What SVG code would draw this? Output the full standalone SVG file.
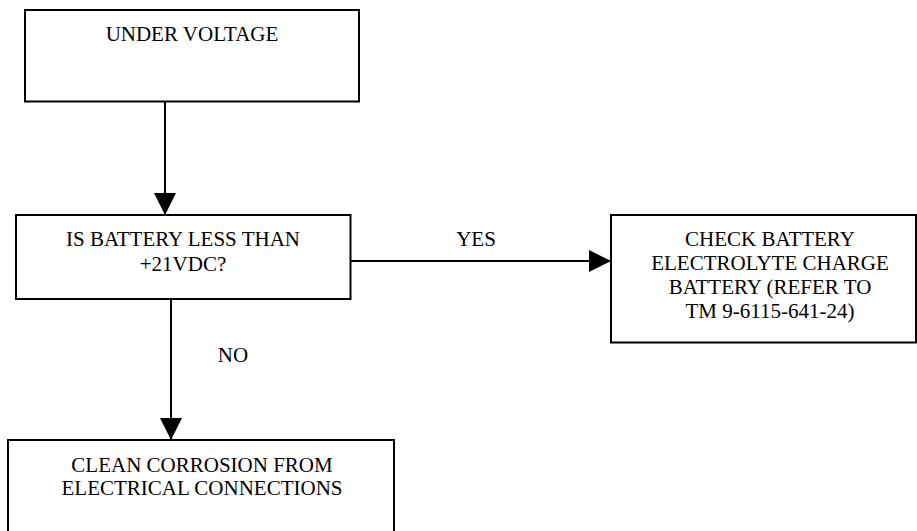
<svg xmlns="http://www.w3.org/2000/svg" width="917" height="531" viewBox="0 0 917 531">
<style>
.box{fill:#fff;stroke:#000;stroke-width:2}
.t{font-family:"Liberation Serif","Times New Roman",serif;font-size:21px;fill:#000;text-anchor:middle}
.c{stroke:#000;stroke-width:2;fill:none}
</style>
<defs>
<marker id="ah" markerUnits="userSpaceOnUse" markerWidth="22" markerHeight="22" refX="20" refY="10" orient="auto" viewBox="0 0 20 20">
<path d="M0,0 L20,10 L0,20 Z" fill="#000"/>
</marker>
</defs>
<rect width="917" height="531" fill="#fff"/>
<g id="n1">
<rect class="box" x="25" y="10" width="334" height="91.5"/>
<text class="t" x="192" y="41">UNDER VOLTAGE</text>
</g>
<g id="n2">
<rect class="box" x="16" y="215" width="334.5" height="84"/>
<text class="t" x="183" y="246">IS BATTERY LESS THAN</text>
<text class="t" x="183" y="271">+21VDC?</text>
</g>
<g id="n3">
<rect class="box" x="611" y="215" width="305" height="127.5"/>
<text class="t" x="770" y="246">CHECK BATTERY</text>
<text class="t" x="770" y="270">ELECTROLYTE CHARGE</text>
<text class="t" x="770" y="294">BATTERY (REFER TO</text>
<text class="t" x="770" y="318">TM 9-6115-641-24)</text>
</g>
<g id="n4">
<rect class="box" x="8" y="440" width="386" height="110"/>
<text class="t" x="202" y="472">CLEAN CORROSION FROM</text>
<text class="t" x="202" y="495">ELECTRICAL CONNECTIONS</text>
</g>
<g id="connectors">
<line class="c" x1="165" y1="101.5" x2="165" y2="215" marker-end="url(#ah)"/>
<line class="c" x1="350.5" y1="261" x2="611" y2="261" marker-end="url(#ah)"/>
<text class="t" x="476" y="246">YES</text>
<line class="c" x1="171" y1="299" x2="171" y2="440" marker-end="url(#ah)"/>
<text class="t" x="233" y="362">NO</text>
</g>
</svg>
